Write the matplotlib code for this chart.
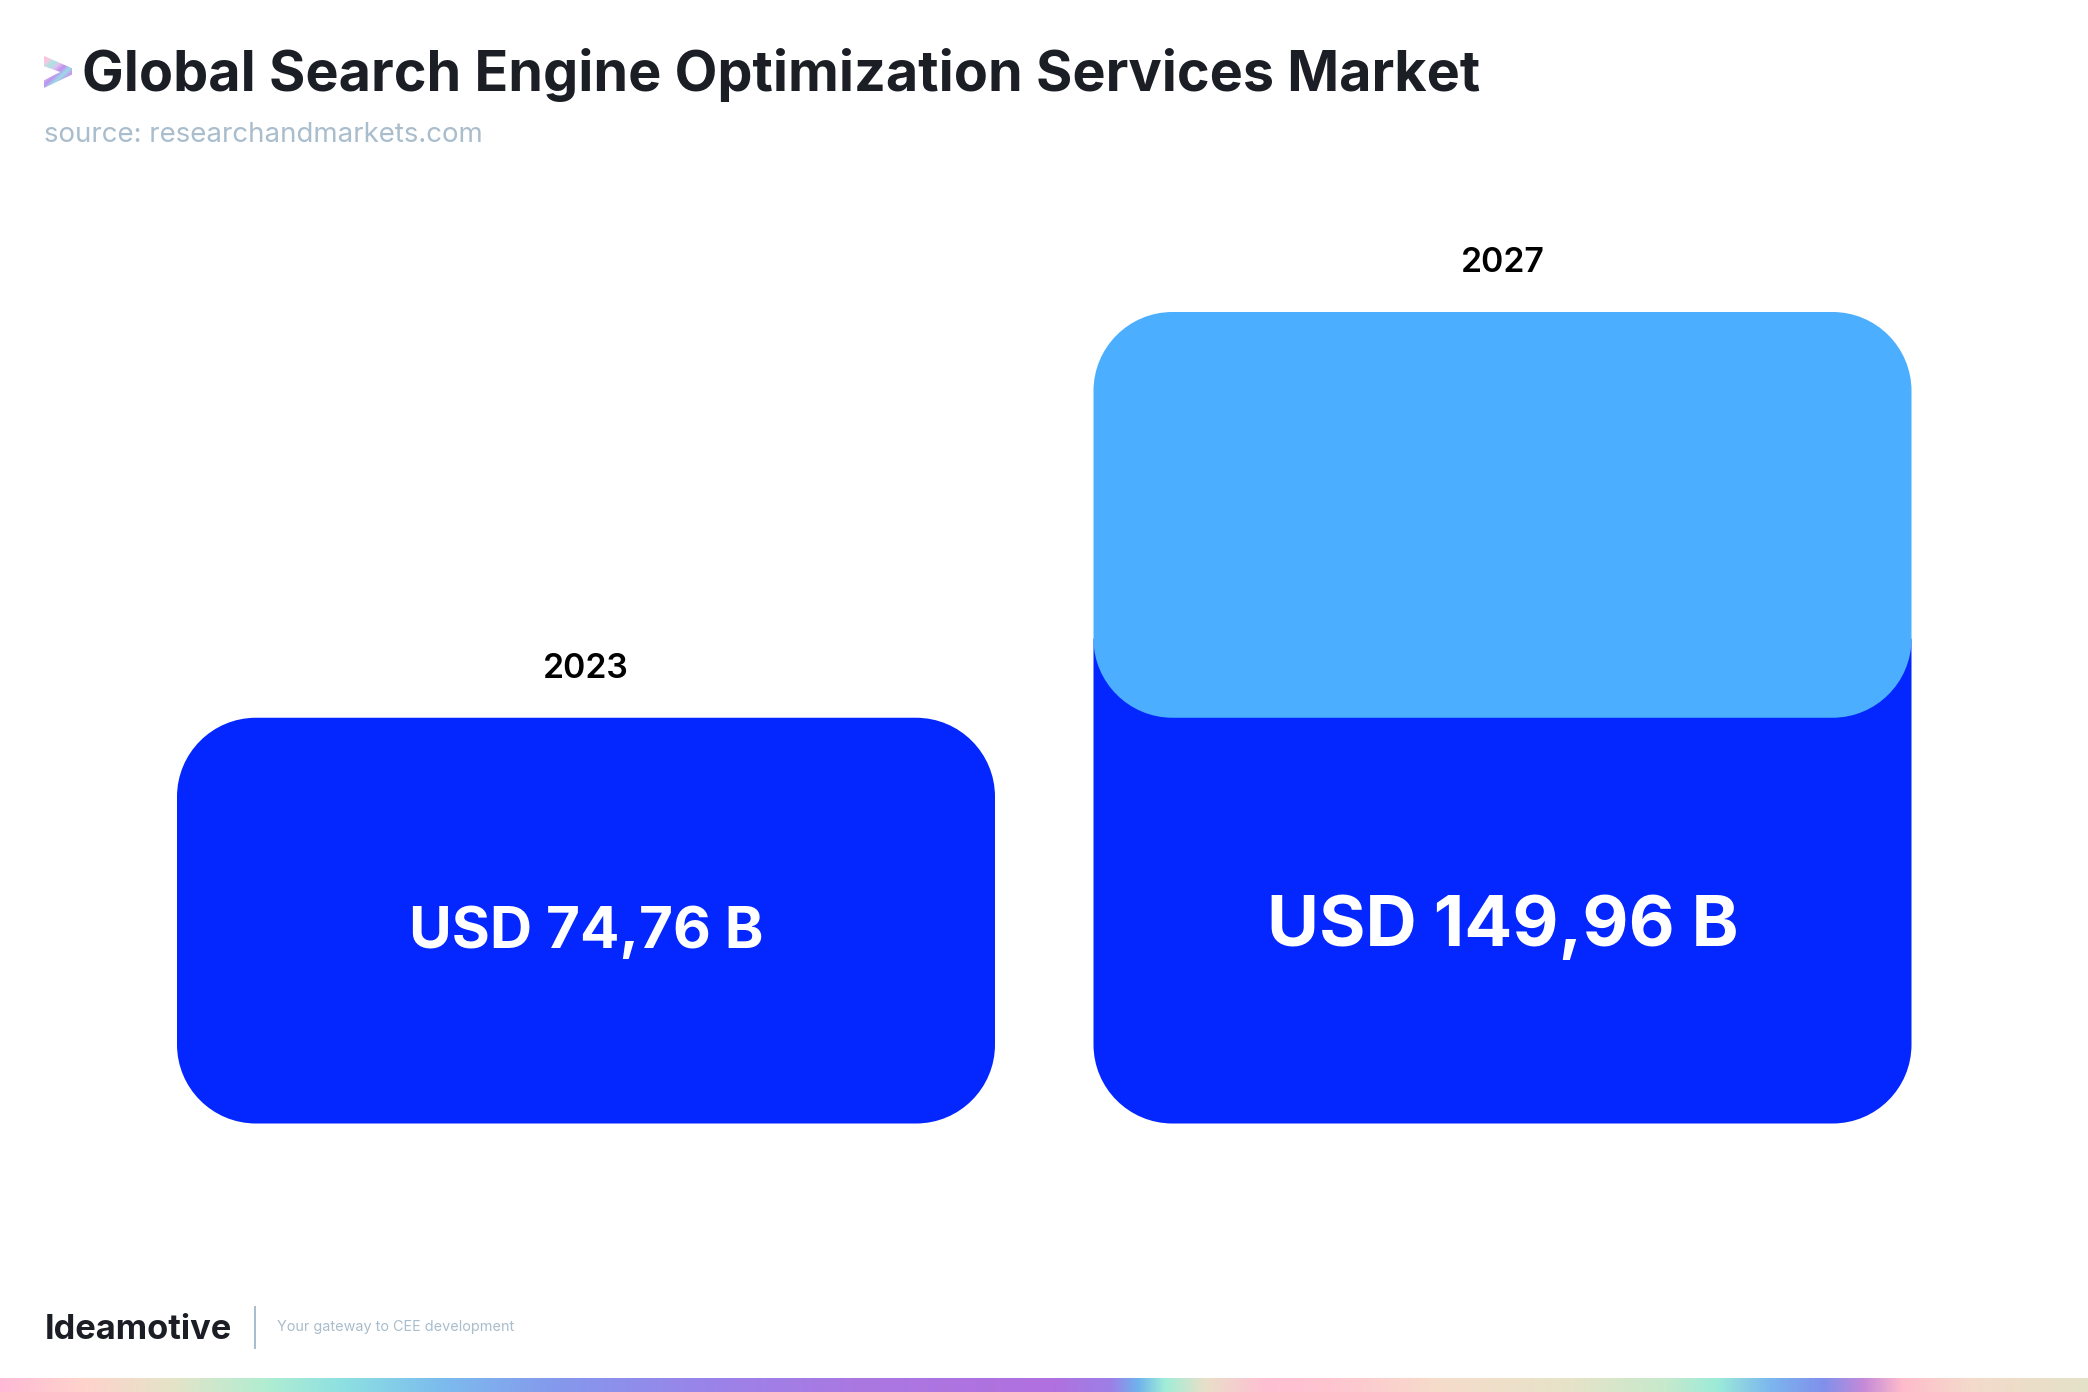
import numpy as np
import matplotlib
matplotlib.use("Agg")
import matplotlib.pyplot as plt
from matplotlib.path import Path
from matplotlib.patches import PathPatch, Polygon, Rectangle
from matplotlib.colors import LinearSegmentedColormap

W, H = 2088, 1392
years = ["2023", "2027"]
base_values = [75.0, 75.0]
growth_values = [0.0, 75.0]
value_labels = ["USD 74,76 B", "USD 149,96 B"]
value_sizes = [42.1, 51.2]
title = "Global Search Engine Optimization Services Market"
source = "source: researchandmarkets.com"
brand = "Ideamotive"
tagline = "Your gateway to CEE development"

DARK, LIGHT = "#0426FF", "#4BAEFF"
INK, MUTED = "#1B1E25", "#A9BDCC"
strip_stops = [(0, "#FFB9D6"), (60, "#FFD2CC"), (130, "#E4E4C8"), (200, "#B0EDD2"), (260, "#8CDFE2"),
               (330, "#7CBCEE"), (420, "#8598EC"), (530, "#9A84E9"), (640, "#AA78E2"), (790, "#B170DF"),
               (835, "#9C80E6"), (855, "#6FB4EC"), (875, "#A0EDD8"), (905, "#E8E0C8"), (950, "#FFBFD3"),
               (1000, "#FFC4D0"), (1080, "#F6DCCB"), (1180, "#E6E3C8"), (1250, "#C8E9CC"), (1290, "#9CEBD8"),
               (1330, "#7CB6EE"), (1370, "#8090EC"), (1400, "#C48AD8"), (1430, "#FFBCCB"), (1480, "#F4DACB"),
               (1568, "#E4E2C8")]
logo_colors = ["#FFC0DC", "#F4C8E4", "#A8E6E0", "#DCC4F0", "#C090EE", "#9ADCE8", "#C894EC", "#F6A8E0", "#FFD0D8"]

plt.rcParams["font.family"] = ["Inter", "DejaVu Sans"]
fig = plt.figure(figsize=(W / 100, H / 100), dpi=100, facecolor="white")


def place(ax_left, ax_top, ax_right, ax_bottom):
    return [ax_left / W, 1 - ax_bottom / H, (ax_right - ax_left) / W, (ax_bottom - ax_top) / H]


def ftext(x, y, s, **kw):
    return fig.text(x / W, 1 - y / H, s, **kw)


# Main chart: one axes whose scales place the bars
bar_w = 818 / 916.5
ax = fig.add_axes(place(0, 312, W, 1123.5))
ax.set_xlim(-586 / 916.5, (W - 586) / 916.5)
ax.set_ylim(0, base_values[1] + growth_values[1])
ax.axis("off")
px_x = (ax.get_xlim()[1] - ax.get_xlim()[0]) / W
px_y = (ax.get_ylim()[1] - ax.get_ylim()[0]) / 811.5
RADIUS = 79


def rounded(x0, x1, y0, y1, color, zorder, round_top=True):
    rx, ry = RADIUS * px_x, RADIUS * px_y
    tx, ty = (rx, ry) if round_top else (0, 0)
    k = 1 - 0.5523
    v = [(x0 + rx, y0), (x1 - rx, y0),
         (x1 - k * rx, y0), (x1, y0 + k * ry), (x1, y0 + ry),
         (x1, y1 - ty),
         (x1, y1 - k * ty), (x1 - k * tx, y1), (x1 - tx, y1),
         (x0 + tx, y1),
         (x0 + k * tx, y1), (x0, y1 - k * ty), (x0, y1 - ty),
         (x0, y0 + ry),
         (x0, y0 + k * ry), (x0 + k * rx, y0), (x0 + rx, y0), (x0 + rx, y0)]
    c = [Path.MOVETO, Path.LINETO, Path.CURVE4, Path.CURVE4, Path.CURVE4, Path.LINETO,
         Path.CURVE4, Path.CURVE4, Path.CURVE4, Path.LINETO, Path.CURVE4, Path.CURVE4, Path.CURVE4,
         Path.LINETO, Path.CURVE4, Path.CURVE4, Path.CURVE4, Path.CLOSEPOLY]
    ax.add_patch(PathPatch(Path(v, c), facecolor=color, edgecolor="none", zorder=zorder, clip_on=False))


value_nudge = [-12, -6.5]  # label drop, pixels
for i, (year, base, growth, label, size) in enumerate(zip(years, base_values, growth_values, value_labels, value_sizes)):
    x0, x1 = i - bar_w / 2, i + bar_w / 2
    total = base + growth
    if growth > 0:
        # the dark bar carries on behind the lower corners of the light block
        rounded(x0, x1, 0, base + RADIUS * px_y, DARK, 2, round_top=False)
        rounded(x0, x1, base, total, LIGHT, 3)
    else:
        rounded(x0, x1, 0, base, DARK, 2)
    ax.annotate(year, (i, total), xytext=(0, 35.3), textcoords="offset points", ha="center", va="center",
                fontsize=24.3, fontweight="semibold", color="black", annotation_clip=False)
    ax.annotate(label, (i, base / 2), xytext=(0, value_nudge[i] * 0.72), textcoords="offset points",
                ha="center", va="center", fontsize=size, fontweight="bold", color="white", zorder=4)

# Header
ftext(82, 75, title, fontsize=40.1, fontweight="bold", color=INK, ha="left", va="center")
ftext(44, 134.5, source, fontsize=19.9, color=MUTED, ha="left", va="center")

grad = LinearSegmentedColormap.from_list("logo", logo_colors)
lax = fig.add_axes(place(44, 56, 72, 88))
lax.axis("off")
lax.set_xlim(0, 1)
lax.set_ylim(0, 1)
shade = np.linspace(0, 1, 64)[None, :] * 0.45 + np.linspace(0, 1, 64)[:, None] * 0.55
img = lax.imshow(shade, cmap=grad, extent=(0, 1, 0, 1), aspect="auto")
clip = Polygon([(0, 1), (1, 0.62), (1, 0.42), (0, 0), (0, 0.24), (0.58, 0.5), (0, 0.68)],
               transform=lax.transData, facecolor="none", edgecolor="none")
lax.add_patch(clip)
img.set_clip_path(clip)

# Footer
ftext(45, 1330, brand, fontsize=24.8, fontweight="bold", color=INK, ha="left", va="center")
fig.add_artist(Rectangle((253.5 / W, 1 - 1349 / H), 2 / W, 43 / H, transform=fig.transFigure,
                         facecolor=MUTED, edgecolor="none"))
ftext(277, 1326.5, tagline, fontsize=10.4, color=MUTED, ha="left", va="center")

sax = fig.add_axes(place(0, 1378, W, H))
sax.axis("off")
stops = [(p / 1568, c) for p, c in strip_stops]
sax.imshow(np.linspace(0, 1, 2048)[None, :], cmap=LinearSegmentedColormap.from_list("strip", stops, N=1024),
           aspect="auto")

fig.savefig("out.png", dpi=100, facecolor="white")
